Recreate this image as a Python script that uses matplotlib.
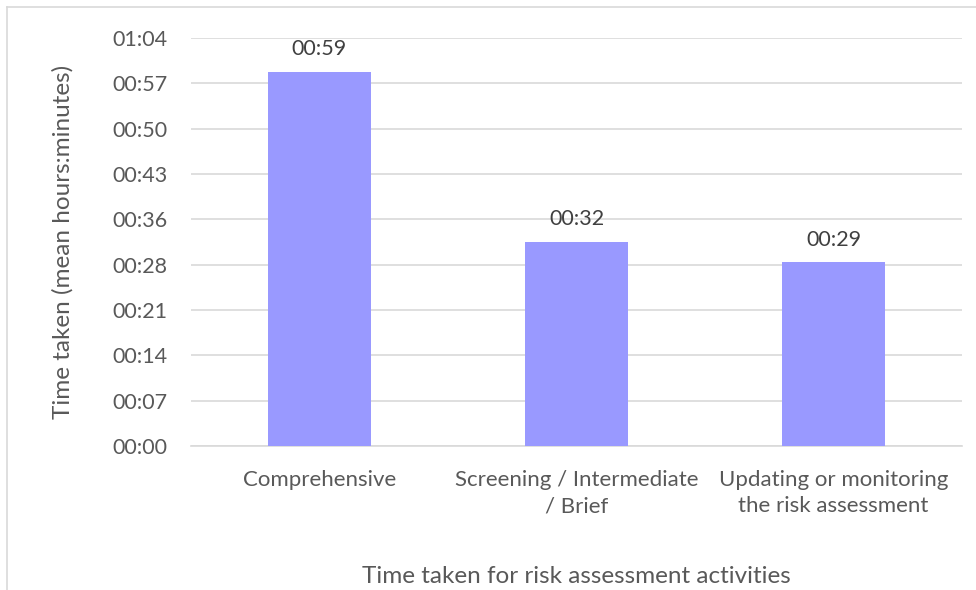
import numpy as np
import matplotlib.pyplot as plt
from matplotlib.lines import Line2D
from matplotlib.ticker import FuncFormatter

# ------------------------------------------------------------
# data (mean time in minutes)
# ------------------------------------------------------------
categories = ["Comprehensive", "Screening / Intermediate\n/ Brief", "Updating or monitoring\nthe risk assessment"]
minutes = [59.4, 32.4, 29.2]
tick_step_days = 0.005  # Excel-style major unit
n_ticks = 10

TEXT = "#595959"
plt.rcParams["font.family"] = ["Lato", "DejaVu Sans"]


def hhmm_trunc(m, pos=None):
    m = int(np.floor(round(m, 6)))
    return f"{m // 60:02d}:{m % 60:02d}"


def hhmm_round(m):
    m = int(round(m))
    return f"{m // 60:02d}:{m % 60:02d}"


fig = plt.figure(figsize=(9.76, 5.90), dpi=100)
ax = fig.add_axes([191 / 976, 1 - 446 / 590, (962 - 191) / 976, (446 - 38) / 590])

x = np.arange(len(categories))
bars = ax.bar(x, minutes, width=0.4, color="#9999FF", zorder=3)

yticks = np.arange(n_ticks) * tick_step_days * 1440
ax.set_ylim(0, yticks[-1])
ax.set_yticks(yticks)
ax.yaxis.set_major_formatter(FuncFormatter(hhmm_trunc))
ax.set_xlim(-0.5, len(categories) - 0.5)
ax.set_xticks(x)
ax.set_xticklabels(categories, fontsize=16, color=TEXT, linespacing=1.4)

ax.grid(axis="y", color="#d9d9d9", linewidth=1.2, zorder=0)
for s in ["top", "right", "left"]:
    ax.spines[s].set_visible(False)
ax.spines["bottom"].set_color("#d9d9d9")
ax.spines["bottom"].set_linewidth(1.2)
ax.tick_params(axis="both", length=0, labelcolor=TEXT)
ax.tick_params(axis="y", pad=17, labelsize=15.5)
ax.tick_params(axis="x", pad=17, labelsize=16)

for xi, yi in zip(x, minutes):
    ax.text(xi, yi + 2.0, hhmm_round(yi), ha="center", va="bottom", fontsize=15.5, color="#404040")

ax.set_ylabel("Time taken (mean hours:minutes)", fontsize=17.5, color=TEXT, labelpad=28)
ax.set_xlabel("Time taken for risk assessment activities", fontsize=17.5, color=TEXT, labelpad=36)

# chart frame (only left and top visible)
fx = 7 / 976
fy = 1 - 7 / 590
fig.add_artist(Line2D([fx, fx], [0, fy], transform=fig.transFigure, color="#d9d9d9", linewidth=1.2))
fig.add_artist(Line2D([fx, 1], [fy, fy], transform=fig.transFigure, color="#d9d9d9", linewidth=1.2))

fig.savefig("out.png", dpi=100)
plt.close(fig)
